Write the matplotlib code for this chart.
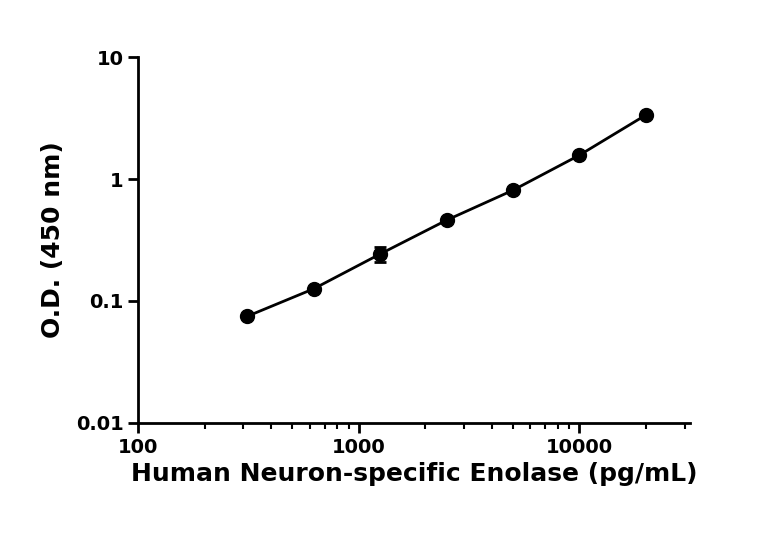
import numpy as np
import matplotlib
matplotlib.use("Agg")
from matplotlib import pyplot as plt
from matplotlib.ticker import LogLocator, FixedLocator, NullFormatter

# standard curve values
conc = [312.5, 625, 1250, 2500, 5000, 10000, 20000]
od = [0.075, 0.126, 0.243, 0.46, 0.81, 1.57, 3.35]
od_err = [0.003, 0.005, 0.035, 0.015, 0.02, 0.05, 0.1]

xticks = [100, 1000, 10000]
xlabels = ["100", "1000", "10000"]
yticks = [0.01, 0.1, 1, 10]
ylabels = ["0.01", "0.1", "1", "10"]

plt.rcParams['font.family'] = ['DejaVu Sans']
fig = plt.figure(figsize=(7.68, 5.34), dpi=100)
ax = fig.add_axes([0.18, 0.208, 0.718, 0.685])

ax.set_xscale('log')
ax.set_yscale('log')
ax.plot(conc, od, color='black', lw=2, zorder=2)
ax.errorbar(conc, od, yerr=od_err, fmt='o', color='black', ms=10,
            capsize=4, elinewidth=2, capthick=2, zorder=3)

ax.set_xlim(100, 31623)
ax.set_ylim(0.01, 10)
ax.xaxis.set_major_locator(FixedLocator(xticks))
ax.set_xticklabels(xlabels)
ax.xaxis.set_minor_locator(LogLocator(base=10, subs=np.arange(2, 10)))
ax.xaxis.set_minor_formatter(NullFormatter())
ax.yaxis.set_major_locator(FixedLocator(yticks))
ax.set_yticklabels(ylabels)
ax.yaxis.set_minor_locator(FixedLocator([]))

for s in ['top', 'right']:
    ax.spines[s].set_visible(False)
for s in ['left', 'bottom']:
    ax.spines[s].set_linewidth(2)
ax.tick_params(which='major', width=2, length=7, labelsize=14)
ax.tick_params(which='minor', width=1.5, length=4)
for lab in ax.get_xticklabels() + ax.get_yticklabels():
    lab.set_fontweight('bold')

ax.set_xlabel('Human Neuron-specific Enolase (pg/mL)', fontsize=18, fontweight='bold', labelpad=4)
ax.set_ylabel('O.D. (450 nm)', fontsize=18, fontweight='bold', labelpad=8)

fig.savefig('out.png', dpi=100)
